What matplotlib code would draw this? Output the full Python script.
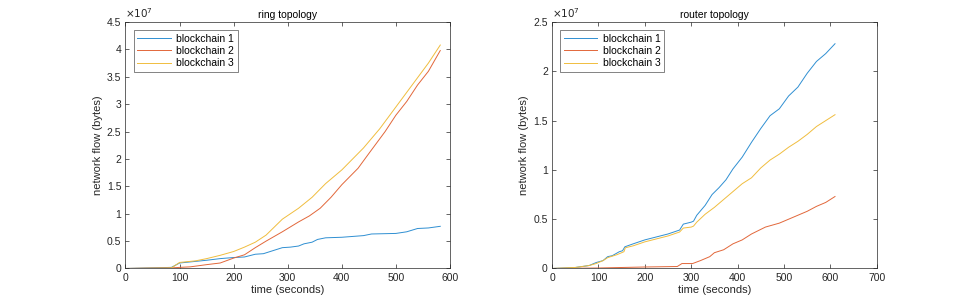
import matplotlib
matplotlib.use("Agg")
import matplotlib.pyplot as plt
from matplotlib.ticker import FuncFormatter

###### data (network flow in units of 1e7 bytes) ######

ring_t1 = [0, 40, 85, 100, 130, 150, 175, 200, 220, 240, 255, 290, 305, 320, 330, 345, 355, 370, 400, 440,
           455, 500, 520, 540, 560, 582]
ring_b1 = [0.0, 0.01, 0.02, 0.10, 0.13, 0.15, 0.18, 0.20, 0.21, 0.26, 0.27, 0.38, 0.39, 0.41, 0.45, 0.48,
           0.53, 0.56, 0.57, 0.60, 0.63, 0.64, 0.67, 0.73, 0.74, 0.77]

ring_t2 = [0, 40, 85, 100, 120, 150, 175, 200, 220, 240, 260, 290, 320, 340, 360, 380, 400, 430, 450, 480,
           500, 520, 540, 560, 582]
ring_b2 = [0.0, 0.005, 0.01, 0.02, 0.03, 0.07, 0.10, 0.19, 0.25, 0.38, 0.50, 0.67, 0.85, 0.96, 1.10, 1.30,
           1.53, 1.83, 2.10, 2.50, 2.80, 3.05, 3.35, 3.60, 3.98]

ring_t3 = [0, 40, 85, 100, 130, 150, 175, 200, 220, 240, 260, 290, 320, 345, 370, 400, 440, 470, 500, 530,
           560, 582]
ring_b3 = [0.0, 0.005, 0.01, 0.11, 0.14, 0.18, 0.24, 0.31, 0.39, 0.48, 0.61, 0.90, 1.10, 1.30, 1.55, 1.80,
           2.20, 2.55, 2.95, 3.35, 3.75, 4.08]

router_t1 = [0, 50, 80, 95, 110, 120, 130, 145, 152, 157, 175, 200, 225, 250, 275, 283, 300, 305, 312, 330,
             345, 360, 375, 390, 410, 430, 450, 470, 490, 510, 530, 550, 570, 590, 610]
router_b1 = [0.0, 0.01, 0.03, 0.06, 0.08, 0.12, 0.13, 0.17, 0.18, 0.22, 0.25, 0.29, 0.32, 0.35, 0.39, 0.45,
             0.47, 0.48, 0.54, 0.64, 0.75, 0.82, 0.90, 1.01, 1.13, 1.28, 1.42, 1.55, 1.62, 1.75, 1.84, 1.98,
             2.10, 2.18, 2.28]

router_t2 = [0, 100, 150, 200, 270, 280, 303, 320, 340, 350, 370, 390, 410, 430, 460, 490, 510, 530, 550,
             570, 590, 610]
router_b2 = [0.0, 0.005, 0.01, 0.015, 0.02, 0.05, 0.05, 0.08, 0.12, 0.16, 0.19, 0.25, 0.29, 0.35, 0.42,
             0.46, 0.50, 0.54, 0.58, 0.63, 0.67, 0.73]

router_t3 = [0, 50, 80, 95, 110, 120, 140, 155, 158, 175, 200, 225, 250, 275, 283, 300, 305, 312, 330, 350,
             370, 390, 410, 430, 450, 470, 490, 510, 530, 550, 570, 590, 610]
router_b3 = [0.0, 0.01, 0.03, 0.05, 0.08, 0.11, 0.14, 0.17, 0.21, 0.23, 0.27, 0.30, 0.33, 0.37, 0.41, 0.42,
             0.43, 0.47, 0.55, 0.62, 0.70, 0.78, 0.86, 0.92, 1.02, 1.10, 1.16, 1.23, 1.29, 1.36, 1.44, 1.50,
             1.56]

labels = ["blockchain 1", "blockchain 2", "blockchain 3"]
colors = ["#2F8FD2", "#E2673A", "#F0BD3E"]

plt.rcParams["font.family"] = ["Liberation Sans", "DejaVu Sans"]
plt.rcParams["font.size"] = 7.5

fig = plt.figure(figsize=(9.69, 3.02), dpi=100)
ax1 = fig.add_axes([0.1295, 0.111, 0.3349, 0.816])
ax2 = fig.add_axes([0.5697, 0.111, 0.3351, 0.816])


def fmt(v, pos):
    return "%g" % v


def style(ax, title, xmax, ymax):
    ax.set_xlim(0, xmax)
    ax.set_ylim(0, ymax)
    ax.set_xticks(range(0, xmax + 1, 100))
    ax.set_yticks([i * 0.5 for i in range(int(ymax / 0.5) + 1)])
    ax.yaxis.set_major_formatter(FuncFormatter(fmt))
    ax.tick_params(direction="in", top=True, right=True, length=3, width=0.5,
                   colors="#262626", labelsize=7.5, pad=3)
    for s in ax.spines.values():
        s.set_linewidth(0.5)
        s.set_color("#262626")
    ax.set_title(title, fontsize=7.5, color="black", pad=3)
    ax.set_xlabel("time (seconds)", fontsize=8, color="#262626", labelpad=2)
    ax.set_ylabel("network flow (bytes)", fontsize=8, color="#262626", labelpad=3)
    ax.text(0.0, 1.01, r"$\times10^{7}$", transform=ax.transAxes, fontsize=7.5,
            color="#262626", ha="left", va="bottom")
    leg = ax.legend(loc="upper left", fontsize=7.5, frameon=True, fancybox=False,
                    borderaxespad=0.8, handlelength=3.2, handletextpad=0.5,
                    labelspacing=0.2, borderpad=0.35)
    leg.get_frame().set_edgecolor("#262626")
    leg.get_frame().set_linewidth(0.5)


ax1.plot(ring_t1, ring_b1, color=colors[0], lw=0.7, label=labels[0])
ax1.plot(ring_t2, ring_b2, color=colors[1], lw=0.7, label=labels[1])
ax1.plot(ring_t3, ring_b3, color=colors[2], lw=0.7, label=labels[2])
style(ax1, "ring topology", 600, 4.5)

ax2.plot(router_t1, router_b1, color=colors[0], lw=0.7, label=labels[0])
ax2.plot(router_t2, router_b2, color=colors[1], lw=0.7, label=labels[1])
ax2.plot(router_t3, router_b3, color=colors[2], lw=0.7, label=labels[2])
style(ax2, "router topology", 700, 2.5)

fig.savefig("out.png", dpi=100)
